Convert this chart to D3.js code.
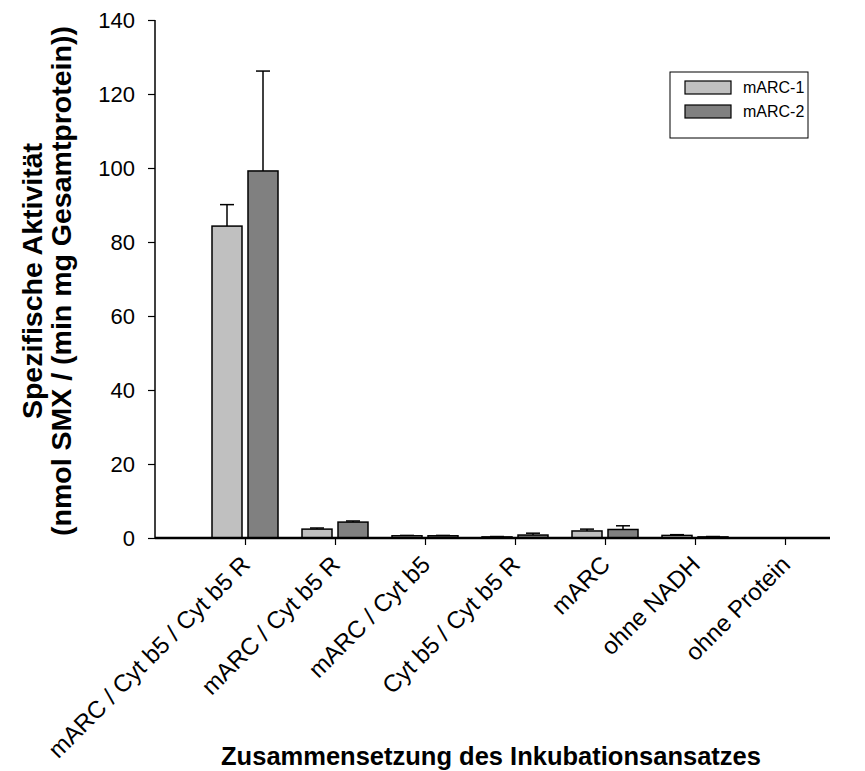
<!DOCTYPE html>
<html>
<head>
<meta charset="utf-8">
<script src="https://cdn.jsdelivr.net/npm/d3@7"></script>
<style>
  body { margin: 0; background: #fff; }
  text { font-family: "Liberation Sans", Arial, sans-serif; }
</style>
</head>
<body>
<svg id="chart" width="865" height="771"></svg>
<script>
// categories and series
var categories = ["mARC / Cyt b5 / Cyt b5 R", "mARC / Cyt b5 R", "mARC / Cyt b5",
                  "Cyt b5 / Cyt b5 R", "mARC", "ohne NADH", "ohne Protein"];
var seriesNames = ["mARC-1", "mARC-2"];
var marc1 = [84.3, 2.4, 0.6, 0.3, 1.9, 0.7, 0];
var marc1Err = [5.8, 0.3, 0.1, 0.1, 0.5, 0.2, 0];
var marc2 = [99.2, 4.3, 0.6, 0.8, 2.3, 0.3, 0];
var marc2Err = [27.0, 0.3, 0.1, 0.5, 1.0, 0.1, 0];
var yTicks = [0, 20, 40, 60, 80, 100, 120, 140];
var colors = ["#c0c0c0", "#808080"];

var svg = d3.select("#chart");

// x runs 0 .. 7.5 with groups at 1..7
var x = d3.scaleLinear().domain([0, 7.5]).range([155, 830]);
var y = d3.scaleLinear().domain([0, 140]).range([538, 20]);
var barW = 30, offset = 18;

var series = [
  { name: seriesNames[0], vals: marc1, err: marc1Err, color: colors[0], dx: -offset },
  { name: seriesNames[1], vals: marc2, err: marc2Err, color: colors[1], dx: offset }
];

// error bars (drawn first so bar outlines sit on top)
series.forEach(function(s) {
  var g = svg.append("g");
  s.vals.forEach(function(v, i) {
    if (s.err[i] <= 0) return;
    var cx = x(i + 1) + s.dx;
    g.append("line").attr("x1", cx).attr("x2", cx)
      .attr("y1", y(v)).attr("y2", y(v + s.err[i]))
      .attr("stroke", "#000").attr("stroke-width", 1.5);
    g.append("line").attr("x1", cx - 7).attr("x2", cx + 7)
      .attr("y1", y(v + s.err[i])).attr("y2", y(v + s.err[i]))
      .attr("stroke", "#000").attr("stroke-width", 1.5);
  });
});

// bars
series.forEach(function(s) {
  svg.append("g").selectAll("rect")
    .data(s.vals)
    .enter()
    .append("rect")
    .attr("x", function(d, i) { return x(i + 1) + s.dx - barW / 2; })
    .attr("y", function(d) { return y(d); })
    .attr("width", barW)
    .attr("height", function(d) { return y(0) - y(d); })
    .attr("fill", s.color)
    .attr("stroke", "#000")
    .attr("stroke-width", function(d) { return d > 0 ? 1.5 : 0; });
});

// y axis
var yAxis = svg.append("g")
  .attr("transform", "translate(155,0)")
  .call(d3.axisLeft(y).tickValues(yTicks).tickSize(7).tickPadding(13));
yAxis.select(".domain").attr("stroke-width", 1.5).attr("d", "M0,20V538");
yAxis.selectAll(".tick line").attr("stroke-width", 1.2);
yAxis.selectAll(".tick text").attr("font-size", 22).attr("fill", "#000")
  .attr("font-family", "Liberation Sans, Arial, sans-serif");

// x axis
var xAxis = svg.append("g")
  .attr("transform", "translate(0,538)")
  .call(d3.axisBottom(x).tickValues(d3.range(1, 8)).tickSize(7)
    .tickFormat(function(d) { return categories[d - 1]; }));
xAxis.select(".domain").attr("stroke-width", 2.5).attr("d", "M155,0H830");
xAxis.selectAll(".tick line").attr("stroke-width", 1.2);
xAxis.selectAll(".tick text")
  .attr("font-size", 24).attr("fill", "#000")
  .attr("font-family", "Liberation Sans, Arial, sans-serif")
  .attr("text-anchor", "end")
  .attr("dy", 0)
  .attr("transform", "translate(-1,21) rotate(-45)");

// axis titles
svg.append("text")
  .attr("transform", "translate(42,281) rotate(-90)")
  .attr("text-anchor", "middle").attr("font-size", 28.5).attr("font-weight", "bold")
  .text("Spezifische Aktivität");
svg.append("text")
  .attr("transform", "translate(71,281) rotate(-90)")
  .attr("text-anchor", "middle").attr("font-size", 28.5).attr("font-weight", "bold")
  .text("(nmol SMX / (min mg Gesamtprotein))");
svg.append("text")
  .attr("x", 491).attr("y", 765)
  .attr("text-anchor", "middle").attr("font-size", 25.5).attr("font-weight", "bold")
  .text("Zusammensetzung des Inkubationsansatzes");

// legend
var legend = svg.append("g").attr("transform", "translate(670,72)");
legend.append("rect").attr("width", 138).attr("height", 66)
  .attr("fill", "#fff").attr("stroke", "#000").attr("stroke-width", 1);
seriesNames.forEach(function(n, i) {
  legend.append("rect").attr("x", 15).attr("y", 9 + i * 24)
    .attr("width", 46).attr("height", 13)
    .attr("fill", colors[i]).attr("stroke", "#000").attr("stroke-width", 1.2);
  legend.append("text").attr("x", 73).attr("y", 21 + i * 24)
    .attr("font-size", 16).text(n);
});
</script>
</body>
</html>
